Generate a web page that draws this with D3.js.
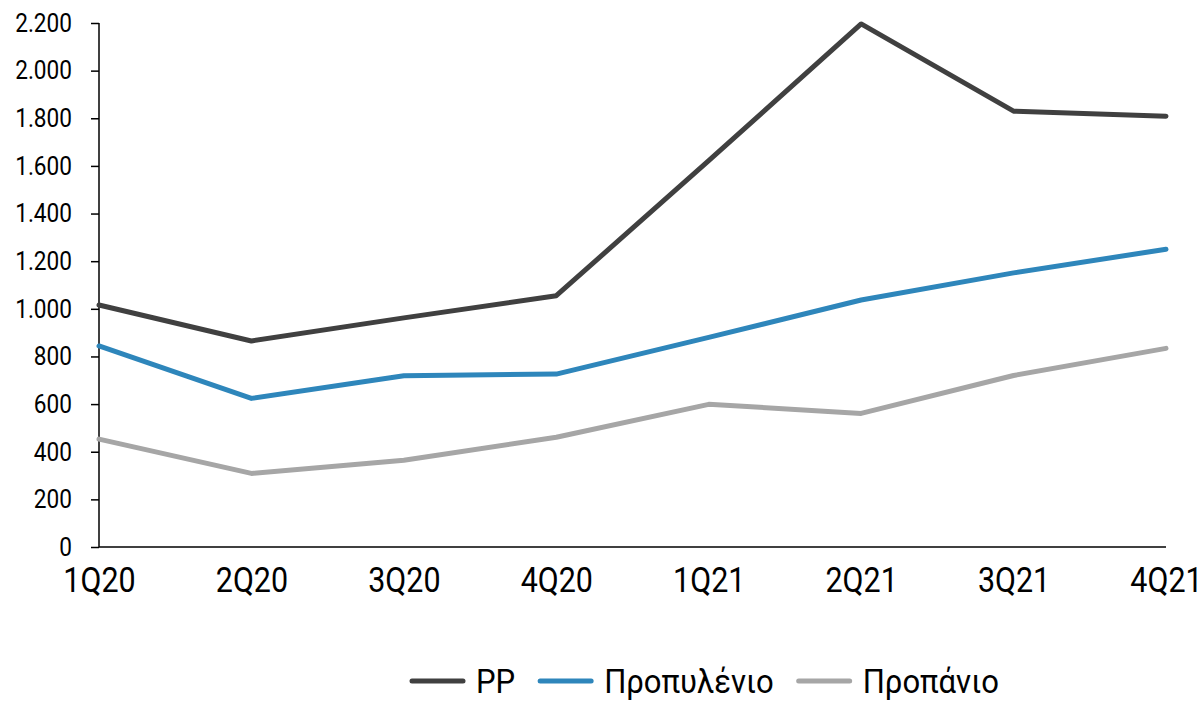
<!DOCTYPE html>
<html>
<head>
<meta charset="utf-8">
<script src="https://cdn.jsdelivr.net/npm/d3@7"></script>
<style>
  body { margin: 0; background: #fff; }
  svg text { font-family: Roboto, "Liberation Sans", sans-serif; fill: #000; }
</style>
</head>
<body>
<svg id="chart" width="1204" height="701"></svg>
<script>
const quarters = ["1Q20", "2Q20", "3Q20", "4Q20", "1Q21", "2Q21", "3Q21", "4Q21"];
const pp        = [1016, 865, 962, 1055, 1622, 2196, 1830, 1809];
const propylene = [844, 624, 719, 726, 880, 1037, 1151, 1250];
const propane   = [453, 309, 364, 461, 599, 561, 720, 834];
const yTicks = [0, 200, 400, 600, 800, 1000, 1200, 1400, 1600, 1800, 2000, 2200];

const series = [
  { name: "PP", values: pp, color: "#404040" },
  { name: "Προπυλένιο", values: propylene, color: "#2e86bb" },
  { name: "Προπάνιο", values: propane, color: "#a6a6a6" }
];

const svg = d3.select("#chart");
const plotLeft = 99, plotRight = 1166, plotTop = 23, plotBottom = 547;

const x = d3.scalePoint().domain(quarters).range([plotLeft, plotRight]);
const y = d3.scaleLinear().domain([0, 2200]).range([plotBottom, plotTop]);

const fmt = d3.formatLocale({ decimal: ",", thousands: ".", grouping: [3], currency: ["", "€"] }).format(",d");

// the original font is a condensed one, so squeeze the glyphs a bit
function condense(sel, k) {
  sel.each(function () {
    const len = this.getComputedTextLength();
    d3.select(this).attr("textLength", len * k).attr("lengthAdjust", "spacingAndGlyphs");
  });
}

// y axis
const yAxis = svg.append("g")
  .attr("transform", `translate(${plotLeft},0)`)
  .call(d3.axisLeft(y).tickValues(yTicks).tickFormat(fmt).tickSize(8).tickPadding(19));
yAxis.selectAll("path, line").attr("stroke", "#000").attr("stroke-width", 1.5);
yAxis.select(".domain").attr("d", `M0,${plotTop}V${plotBottom}`);
yAxis.selectAll("text").attr("font-size", 26).attr("font-family", "Roboto").attr("fill", "#000");
condense(yAxis.selectAll("text"), 0.87);

// x axis
const xAxis = svg.append("g")
  .attr("transform", `translate(0,${plotBottom})`)
  .call(d3.axisBottom(x).tickSize(0).tickPadding(20));
xAxis.select(".domain").attr("d", `M${plotLeft},0H${plotRight}`).attr("stroke", "#000").attr("stroke-width", 1.5);
xAxis.selectAll("text").attr("font-size", 35).attr("font-family", "Roboto").attr("fill", "#000")
  .attr("dy", "0.72em");
condense(xAxis.selectAll("text"), 0.87);

// lines
const line = d3.line().x((d, i) => x(quarters[i])).y(d => y(d));
svg.selectAll(".series")
  .data(series)
  .join("path")
  .attr("class", "series")
  .attr("d", d => line(d.values))
  .attr("fill", "none")
  .attr("stroke", d => d.color)
  .attr("stroke-width", 5)
  .attr("stroke-linecap", "round")
  .attr("stroke-linejoin", "round");

// legend
let lx = 412;
const ly = 681;
series.forEach(s => {
  svg.append("line")
    .attr("x1", lx).attr("x2", lx + 51)
    .attr("y1", ly).attr("y2", ly)
    .attr("stroke", s.color).attr("stroke-width", 5).attr("stroke-linecap", "round");
  const t = svg.append("text")
    .attr("x", lx + 64).attr("y", ly + 12)
    .attr("font-size", 33)
    .text(s.name);
  const w = t.node().getComputedTextLength() * 0.94;
  t.attr("textLength", w).attr("lengthAdjust", "spacingAndGlyphs");
  lx += 64 + w + 25;
});
</script>
</body>
</html>
